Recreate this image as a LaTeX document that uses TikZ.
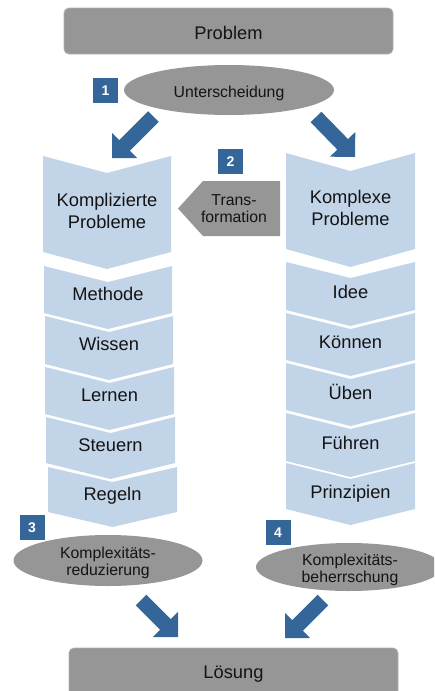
\documentclass[tikz,border=0pt]{standalone}
\usepackage{fontspec}
\setmainfont{Liberation Sans}
\usetikzlibrary{calc,shapes.geometric}

\definecolor{boxgray}{RGB}{150,150,150}
\definecolor{edgegray}{RGB}{175,175,175}
\definecolor{chevblue}{RGB}{194,212,232}
\definecolor{darkblue}{RGB}{52,102,153}
\definecolor{txt}{RGB}{20,20,20}

\newcommand\bigsz{\fontsize{18.3}{22}\selectfont}
\newcommand\smallsz{\fontsize{15.8}{17}\selectfont}

% chevron band: left x, right x, top y, bottom y, notch depth
\newcommand\chevron[5]{%
  \fill[chevblue] (#1,#3) -- ({(#1+#2)/2},{#3+#5}) -- (#2,#3) -- (#2,#4)
    -- ({(#1+#2)/2},{#4+#5}) -- (#1,#4) -- cycle;}

% block arrow from tail coordinate to tip coordinate
\newcommand\blockarrow[2]{%
  \coordinate (ba) at ($(#2)!17.7pt!(#1)$);
  \fill[darkblue] (#2) -- ($(ba)!17.7pt!90:(#1)$) -- ($(ba)!7.5pt!90:(#1)$)
    -- ($(#1)!7.5pt!-90:(ba)$) -- ($(#1)!7.5pt!90:(ba)$)
    -- ($(ba)!7.5pt!-90:(#1)$) -- ($(ba)!17.7pt!-90:(#1)$) -- cycle;}

\tikzset{
  lbl/.style={font=\bigsz, text=txt, inner sep=0pt, anchor=base, align=center},
  slbl/.style={font=\smallsz, text=txt, inner sep=0pt, align=center},
  graybox/.style={fill=boxgray, draw=edgegray, line width=0.8pt, rounded corners=5pt},
  grayoval/.style={ellipse, fill=boxgray, inner sep=0pt},
  numbox/.style={fill=darkblue, text=white, font=\fontsize{14}{14}\selectfont\bfseries,
    minimum size=25pt, inner sep=0pt},
}

\begin{document}
\begin{tikzpicture}[x=1pt,y=-1pt]
\useasboundingbox (0,0) rectangle (434,691);
\clip (0,0) rectangle (434,691);

% top and bottom bars
\draw[graybox] (64,8) rectangle (393,54);
\node[lbl] (problem) at (228.5,39) {Problem};
\draw[graybox] (69,648) rectangle (398,700);
\node[lbl] (loesung) at (233.5,678) {Lösung};

% distinction
\node[grayoval, minimum width=210pt, minimum height=50pt] (unter) at (229,90) {};
\node[slbl, anchor=base] (unter-t) at (229,97.5) {Unterscheidung};
\node[numbox] (n1) at (105.5,90.5) {1};

% left column: complicated problems
\chevron{43}{171}{156}{252}{17}
\node[lbl, anchor=center] (kompliziert) at (107,211) {Komplizierte\\Probleme};
\chevron{44}{172}{266}{313}{16}
\node[lbl] (methode) at (108,300.7) {Methode};
\chevron{45}{173}{316}{364}{16}
\node[lbl] (wissen) at (109,350.7) {Wissen};
\chevron{45}{174}{367}{414}{16}
\node[lbl] (lernen) at (109.5,401.7) {Lernen};
\chevron{46}{175}{417}{463}{16}
\node[lbl] (steuern) at (110.5,451) {Steuern};
\chevron{48}{177}{467}{512}{15}
\node[lbl] (regeln) at (112.5,500.7) {Regeln};

% right column: complex problems
\chevron{286}{415}{153}{249}{18}
\node[lbl, anchor=center] (komplex) at (350.5,208) {Komplexe\\Probleme};
\chevron{286}{415}{262}{310}{16}
\node[lbl] (idee) at (350.5,298.3) {Idee};
\chevron{286}{415}{313}{360}{16}
\node[lbl] (koennen) at (350.5,348.3) {Können};
\chevron{286}{415}{363}{410}{16}
\node[lbl] (ueben) at (350.5,399.3) {Üben};
\chevron{286}{415}{413}{461}{16}
\node[lbl] (fuehren) at (350.5,449.3) {Führen};
\chevron{286}{415}{463}{509}{16}
\node[lbl] (prinzipien) at (350.5,498.3) {Prinzipien};

% transformation from complex to complicated
\fill[boxgray] (280,181) -- (203,181) -- (178,208.5) -- (203,236) -- (280,236) -- cycle;
\node[slbl] (trans) at (234,209) {Trans-\\formation};
\node[numbox] (n2) at (230.5,161.5) {2};

% reduction and mastery
\node[grayoval, minimum width=189pt, minimum height=51pt] (reduz) at (108,560.5) {};
\node[slbl] (reduz-t) at (108,563) {Komplexitäts-\\reduzierung};
\node[numbox] (n3) at (32,527.5) {3};
\node[grayoval, minimum width=186pt, minimum height=48pt] (beherr) at (349,567) {};
\node[slbl] (beherr-t) at (350,570) {Komplexitäts-\\beherrschung};
\node[numbox] (n4) at (278,532.5) {4};

% flow arrows
\coordinate (a1s) at (153.5,116.5); \coordinate (a1e) at (112,158);
\coordinate (a2s) at (316,117);     \coordinate (a2e) at (355,157);
\coordinate (a3s) at (141,600);     \coordinate (a3e) at (178,637);
\coordinate (a4s) at (323,600);     \coordinate (a4e) at (285,638);
\blockarrow{a1s}{a1e}
\blockarrow{a2s}{a2e}
\blockarrow{a3s}{a3e}
\blockarrow{a4s}{a4e}
\end{tikzpicture}
\end{document}
